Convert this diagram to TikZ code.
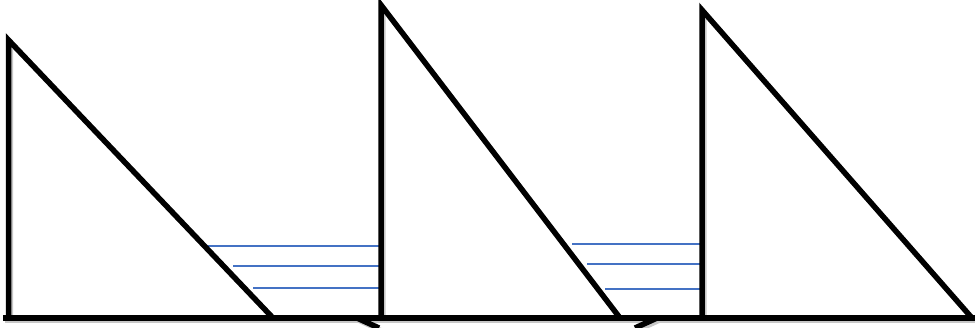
\documentclass[tikz,border=0pt]{standalone}
\usepackage{tikz}
\definecolor{levelblue}{RGB}{68,114,196}

\begin{document}
\begin{tikzpicture}[x=1pt, y=-1pt,
        edge/.style={draw=black, line width=5.5pt, line join=miter},
        shade/.style={draw=black!22, line width=5pt, line join=miter, transform canvas={shift={(2pt,-2.5pt)}}},
        level/.style={draw=levelblue, line width=1.8pt}
    ]
        \useasboundingbox (0,0) rectangle (975,327);
        % sawtooth corners
        \coordinate (atop) at (8.5,40);
        \coordinate (abot) at (8.5,318);
        \coordinate (atip) at (273,318);
        \coordinate (btop) at (381,5);
        \coordinate (bbot) at (381,318);
        \coordinate (btip) at (620,318);
        \coordinate (ctop) at (702,10);
        \coordinate (cbot) at (702,318);
        \coordinate (ctip) at (972,318);
        \coordinate (lend) at (3,318);
        \coordinate (rend) at (975,318);
        % soft shadow
        \draw[shade] (abot) -- (atop) -- (atip);
        \draw[shade] (bbot) -- (btop) -- (btip);
        \draw[shade] (cbot) -- (ctop) -- (ctip);
        \draw[shade] (lend) -- (rend);
        \draw[shade] (357,318) -- (379,328);
        \draw[shade] (657,318) -- (635,328);
        % blue levels
        \draw[level] (208,246) -- (381,246);
        \draw[level] (233,266) -- (381,266);
        \draw[level] (253,288) -- (381,288);
        \draw[level] (572,244) -- (702,244);
        \draw[level] (587,264) -- (702,264);
        \draw[level] (605,289) -- (702,289);
        % teeth
        \draw[edge] (abot) -- (atop) -- (atip);
        \draw[edge] (bbot) -- (btop) -- (btip);
        \draw[edge] (cbot) -- (ctop) -- (ctip);
        \draw[edge] (lend) -- (rend);
        \draw[edge] (357,318) -- (379,328);
        \draw[edge] (657,318) -- (635,328);
    \end{tikzpicture}
\end{document}
